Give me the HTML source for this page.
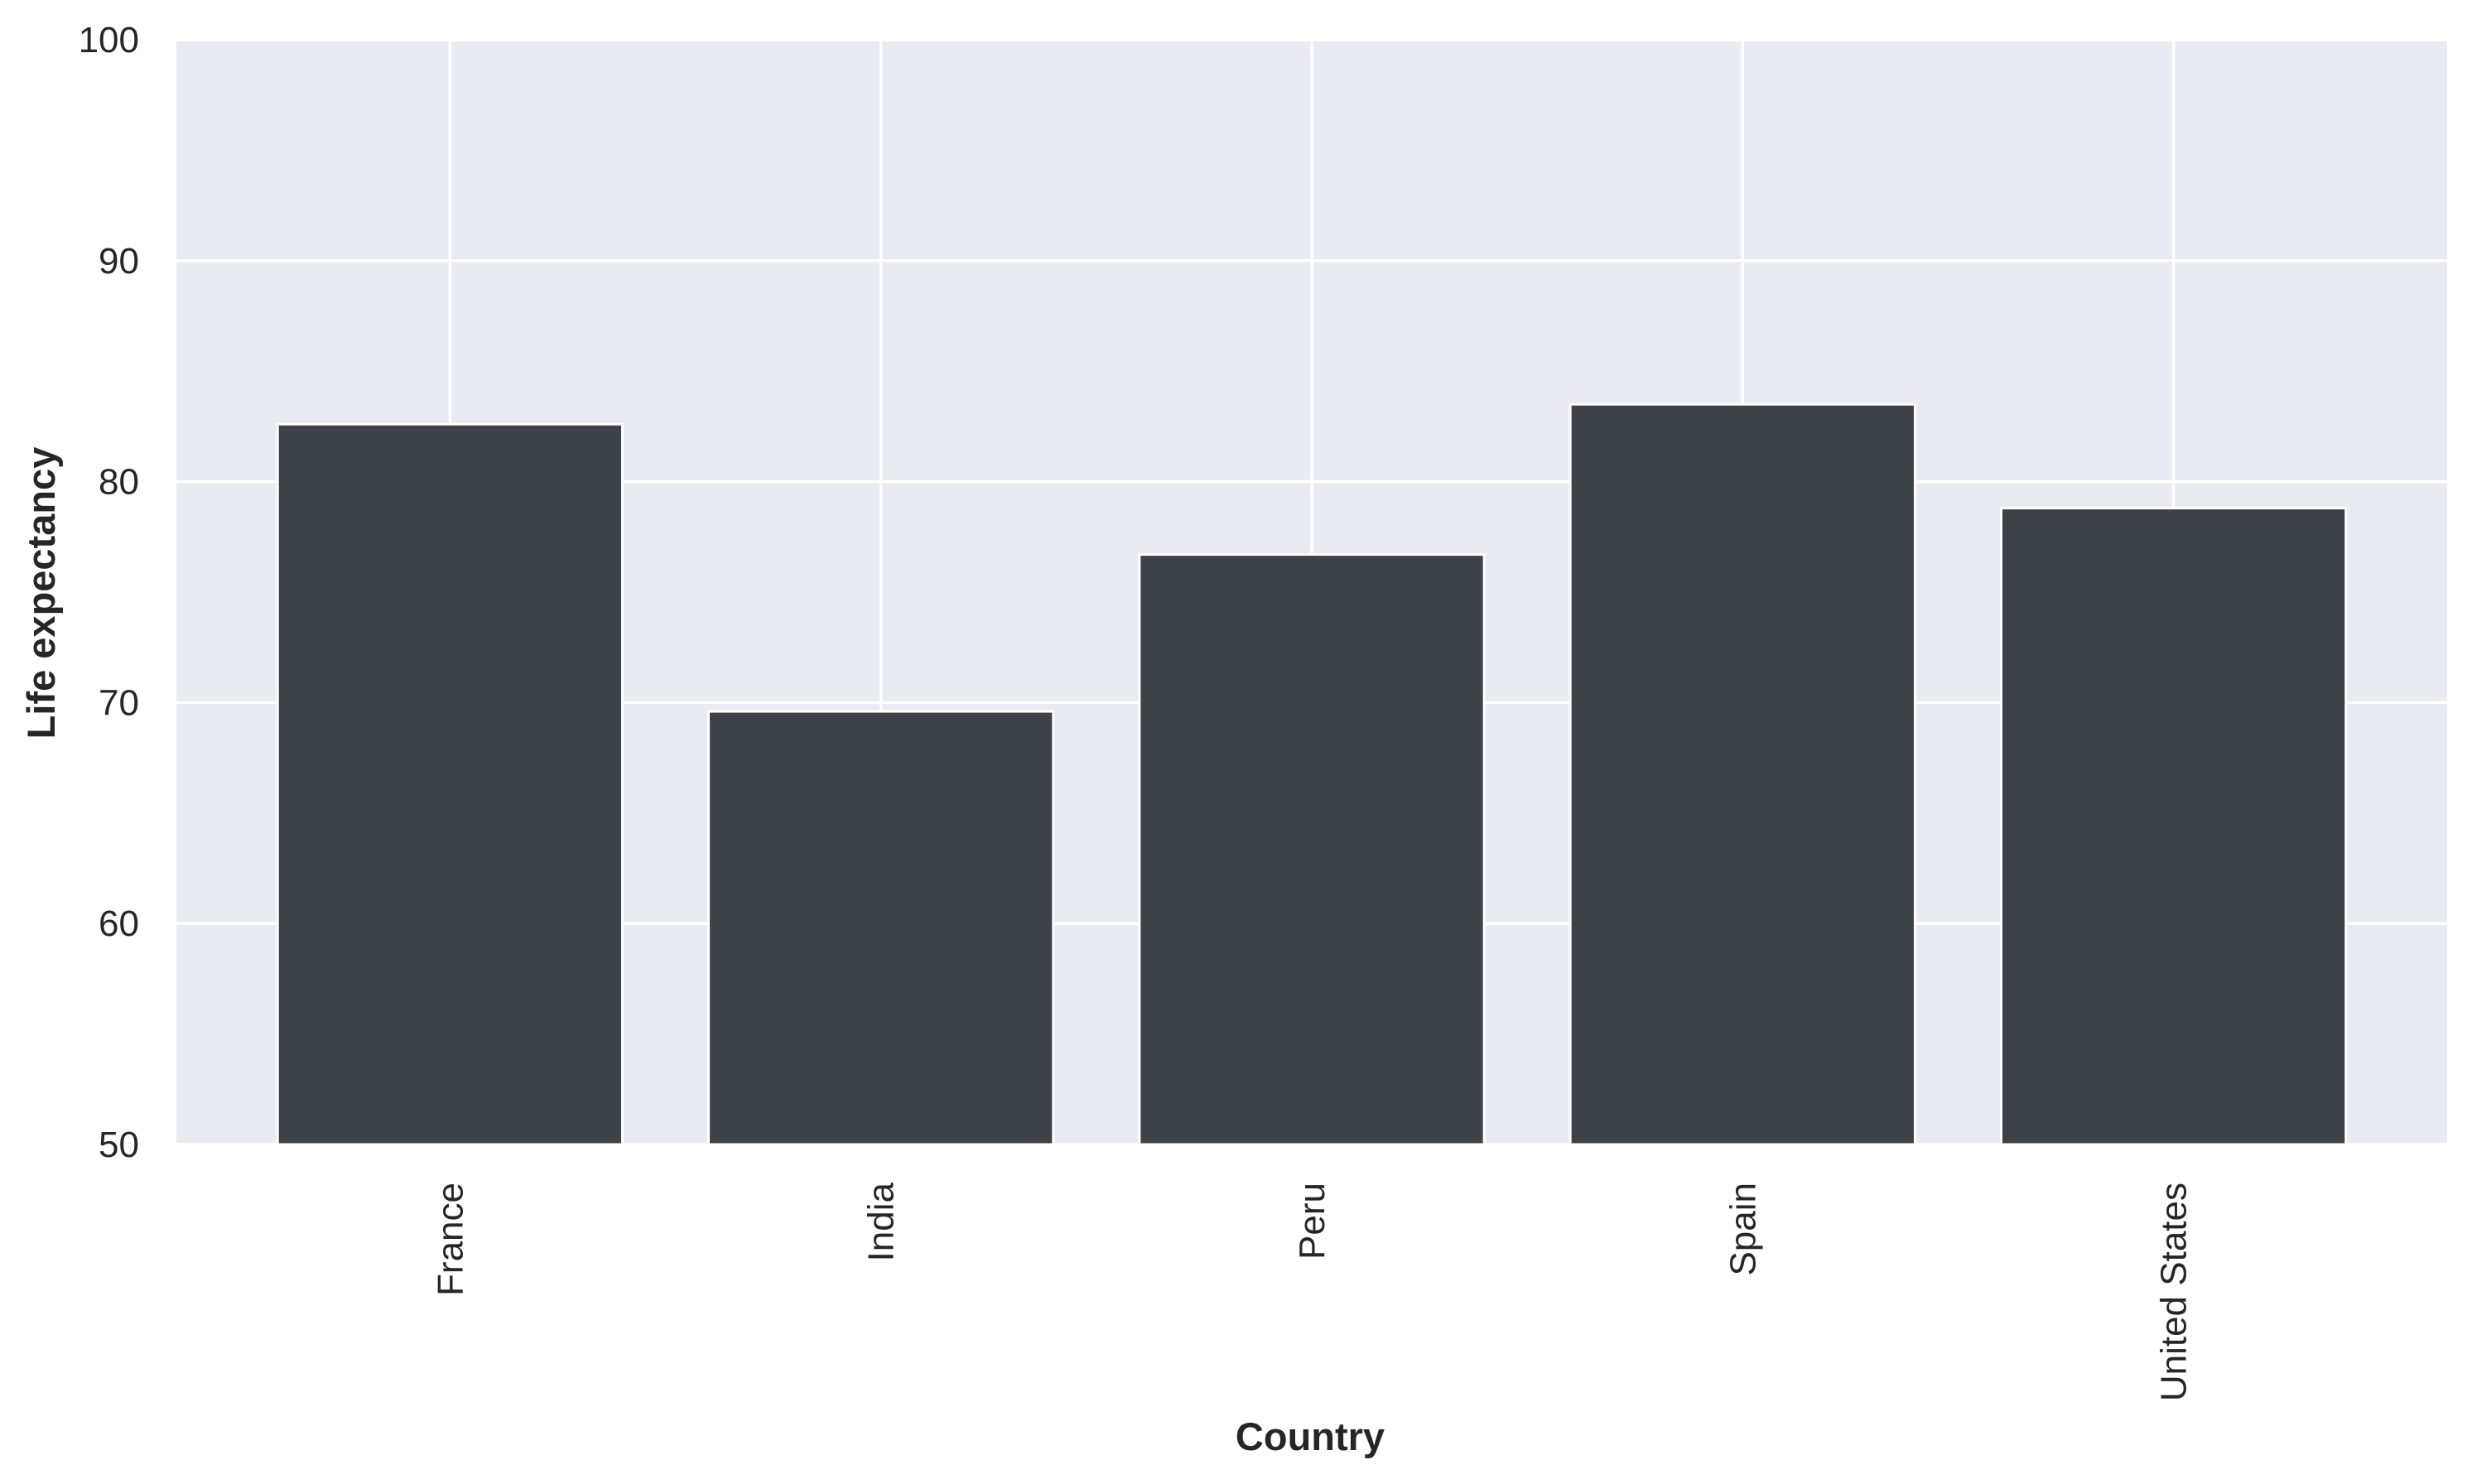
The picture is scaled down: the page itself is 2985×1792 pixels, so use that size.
<!DOCTYPE html>
<html><head><meta charset="utf-8">
<style>html,body{margin:0;padding:0;background:#fff;}svg{display:block;}</style>
</head><body>
<svg id="chart" width="2985" height="1792" viewBox="0 0 2985 1792" xmlns="http://www.w3.org/2000/svg" font-family="'Liberation Sans', Arial, sans-serif">
<rect x="213" y="48" width="2742" height="1334" fill="#eaeaf2"/>
<g id="grid"></g>
<g id="bars"></g>
<g id="yticks"></g>
<g id="xticks"></g>
<text x="0" y="0" transform="translate(66,716) rotate(-90)" text-anchor="middle" font-size="47" font-weight="bold" fill="#262626">Life expectancy</text>
<text x="1582" y="1751" text-anchor="middle" font-size="47" font-weight="bold" fill="#262626">Country</text>
</svg>
<script>
const categories = ["France", "India", "Peru", "Spain", "United States"];
const lifeExpectancy = [82.6, 69.6, 76.7, 83.5, 78.8];
const yTicks = [50, 60, 70, 80, 90, 100];
const yTickLabels = ["50", "60", "70", "80", "90", "100"];

const L = 213, R = 2955, T = 48, B = 1382;
const yMin = 50, yMax = 100;
const xMin = -0.635, xMax = categories.length - 1 + 0.635;
function yScale(v){ return B - (v - yMin) / (yMax - yMin) * (B - T); }
function xScale(i){ return L + (i - xMin) / (xMax - xMin) * (R - L); }
const NS = "http://www.w3.org/2000/svg";
function mk(tag, attrs){ const e = document.createElementNS(NS, tag); for (const k in attrs) e.setAttribute(k, attrs[k]); return e; }

const grid = document.getElementById('grid');
yTicks.forEach((t) => {
  const ln = mk('line', {x1: L, x2: R, y1: yScale(t), y2: yScale(t), stroke: '#fff', 'stroke-width': 3.5});
  
  
  grid.appendChild(ln);
});
categories.forEach((c, i) => {
  const ln = mk('line', {x1: xScale(i), x2: xScale(i), y1: T, y2: B, stroke: '#fff', 'stroke-width': 3.5});
  
  
  grid.appendChild(ln);
});

const slot = xScale(1) - xScale(0);
const bw = slot * 0.8;
const bars = document.getElementById('bars');
lifeExpectancy.forEach((v, i) => {
  const r = mk('rect', {x: xScale(i) - bw/2, y: yScale(v), width: bw, height: B - yScale(v), fill: '#3d4148', stroke: '#fff', 'stroke-width': 3});
  
  
  bars.appendChild(r);
});

const yt = document.getElementById('yticks');
yTicks.forEach((t, i) => {
  const tx = mk('text', {x: 168, y: yScale(t) + 15, 'text-anchor': 'end', 'font-size': 44, fill: '#262626'});
  tx.textContent = yTickLabels[i];
  
  
  yt.appendChild(tx);
});

const xt = document.getElementById('xticks');
categories.forEach((c, i) => {
  const x = xScale(i) + 15, y = 1428;
  const tx = mk('text', {x: 0, y: 0, transform: 'translate(' + x + ',' + y + ') rotate(-90)', 'text-anchor': 'end', 'font-size': 44, fill: '#262626'});
  tx.textContent = c;
  
  
  xt.appendChild(tx);
});
</script>
</body></html>
